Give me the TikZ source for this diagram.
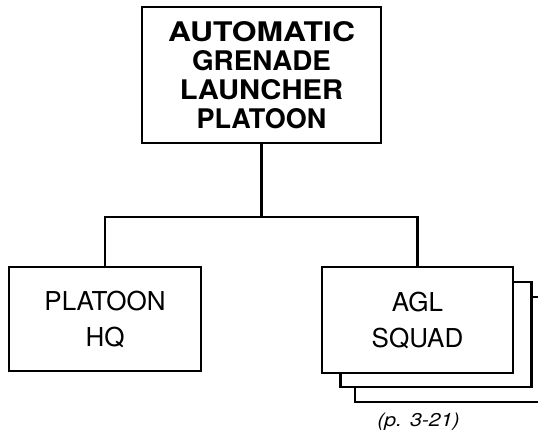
\documentclass[tikz,border=0pt]{standalone}
\usepackage{fontspec}
\setmainfont{TeX Gyre Heros}
\usetikzlibrary{calc}
\tikzset{
  box/.style={draw=black, line width=2.2pt, fill=white, inner sep=0pt, align=center},
  conn/.style={draw=black, line width=2.2pt},
  toptext/.style={font=\bfseries\fontsize{27}{29}\selectfont},
  lowtext/.style={font=\fontsize{26}{36}\selectfont},
}
\begin{document}
\begin{tikzpicture}[x=1pt,y=-1pt]
\useasboundingbox (0,0) rectangle (538,437);
\clip (0,0) rectangle (538,437);
% top box
\node[box, toptext, minimum width=239pt, minimum height=136pt] (top) at (261.5,75)
  {\scalebox{1.18}[1]{AUTOMATIC}\\ \scalebox{1.03}[1]{GRENADE}\\ \scalebox{1.08}[1]{LAUNCHER}\\ PLATOON};
% platoon HQ
\node[box, lowtext, minimum width=192pt, minimum height=104pt] (hq) at (105,319)
  {PLATOON\\ HQ};
% stacked squads
\node[box, minimum width=191pt, minimum height=105pt] (agl3) at (450.5,349.5) {};
\node[box, minimum width=191pt, minimum height=105pt] (agl2) at (436,334.5) {};
\node[box, lowtext, minimum width=191pt, minimum height=106pt] (agl) at (417.5,320)
  {AGL\\ SQUAD};
% connectors
\coordinate (j) at ($(top.south)+(0,73)$);
\draw[conn] (top.south) -- (j);
\draw[conn] (hq.north) |- (j) -| (agl.north);
% reference note
\node[font=\itshape\fontsize{18.5}{20}\selectfont] (note) at (418.5,422)
  {\scalebox{1.15}[1]{(p. 3-21)}};
\end{tikzpicture}
\end{document}
